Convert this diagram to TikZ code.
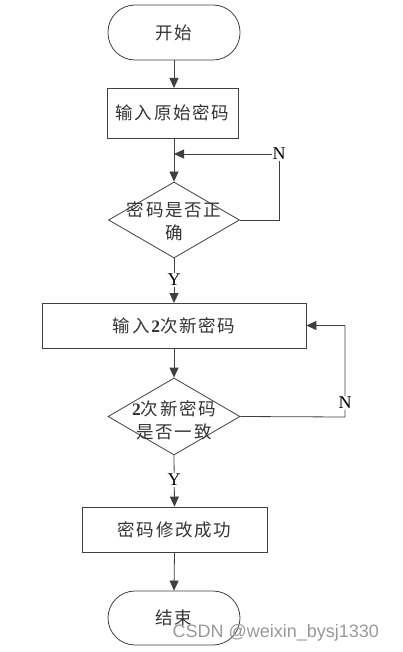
\documentclass[tikz,border=0pt]{standalone}
\usepackage{fontspec}
\setmainfont{Liberation Serif}
\newfontfamily\cjk[LetterSpace=10]{Noto Sans CJK SC}
\newfontfamily\wm{Liberation Sans}
\usetikzlibrary{shapes.geometric,arrows.meta}
\begin{document}
\begin{tikzpicture}[x=1pt,y=-1pt,
  every node/.style={font=\cjk\fontsize{17.5}{23}\selectfont, text=black!80},
  term/.style={draw=black!75, line width=0.8pt, rectangle, rounded corners=27pt, minimum width=132pt, minimum height=55pt, inner sep=0pt},
  procbox/.style={draw=black!75, line width=0.8pt, rectangle, inner sep=0pt},
  decide/.style={draw=black!75, line width=0.8pt, diamond, inner sep=0pt},
  lbl/.style={font=\fontsize{18}{18}\selectfont, fill=white, inner sep=1pt, text=black},
  conn/.style={line width=0.8pt, draw=black!75},
  arr/.style={conn, -{Triangle[length=10pt,width=9pt]}}]
\useasboundingbox (0,0) rectangle (402,652);
\node[term] (start) at (174,32.5) {开始};
\node[procbox, minimum width=131pt, minimum height=50pt] (b1) at (172.5,113) {输入原始密码};
\node[decide, minimum width=131pt, minimum height=76pt] (d1) at (174,220) {};
\node[align=center] (d1t) at (174,221) {密码是否正\\确};
\node[procbox, minimum width=264pt, minimum height=45pt] (b2) at (174,325.5) {输入\textbf{\rmfamily 2}次新密码};
\node[decide, minimum width=132pt, minimum height=77pt] (d2) at (174,416.5) {};
\node[align=center] (d2t) at (174,420) {\textbf{\rmfamily 2}次新密码\\是否一致};
\node[procbox, minimum width=185pt, minimum height=45pt] (b3) at (174.5,529.5) {密码修改成功};
\node[term, minimum height=54pt] (end) at (174,618) {结束};
\coordinate (c1) at (279,220);
\coordinate (c1t) at (279,154);
\coordinate (j1) at (174,154);
\coordinate (c2) at (345,417);
\coordinate (c2t) at (345,325.5);
\draw[arr] (start.south) -- (174,88);
\draw[arr] (174,138) -- (d1.north);
\draw[arr] (d1.east) -- (c1) -- (c1t) -- (j1);
\node[lbl] (n1) at (c1t) {N};
\draw[arr] (d1.south) -- (174,303);
\node[lbl] (y1) at (174,280) {Y};
\draw[arr] (b2.south) -- (d2.north);
\draw[arr] (d2.east) -- (c2) -- (c2t) -- (b2.east);
\node[lbl] (n2) at (345,403) {N};
\draw[arr] (d2.south) -- (b3.north);
\node[lbl] (y2) at (174,480) {Y};
\draw[arr] (b3.south) -- (end.north);
\node[font=\wm\fontsize{18}{18}\selectfont, text=black!40, anchor=west] (wmk) at (169,633) {CSDN @weixin\_bysj1330};
\end{tikzpicture}
\end{document}
